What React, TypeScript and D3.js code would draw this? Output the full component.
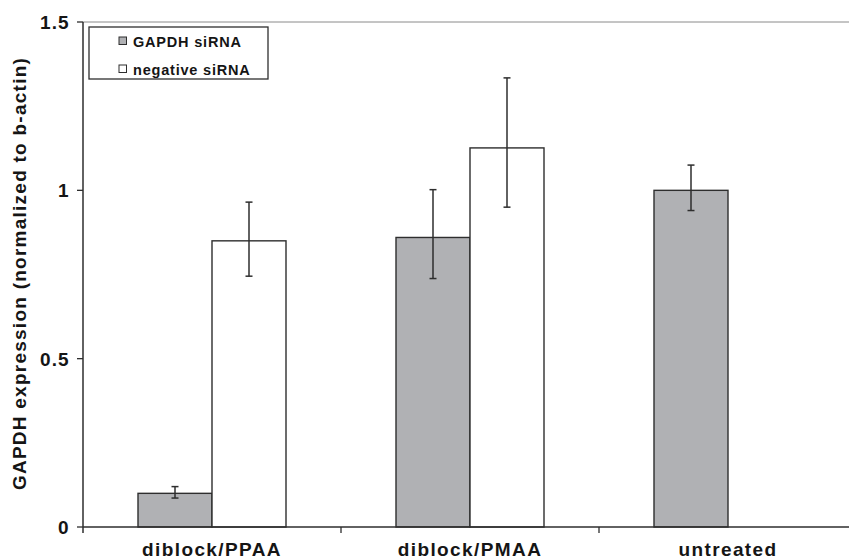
import React from "react";
import * as d3 from "d3";

// Chart data
const categories = ["diblock/PPAA", "diblock/PMAA", "untreated"];
const seriesNames = ["GAPDH siRNA", "negative siRNA"];
const gapdhValues = [0.1, 0.86, 1.0];
const gapdhErrUp = [0.02, 0.142, 0.075];
const gapdhErrDown = [0.014, 0.122, 0.06];
const negativeValues: (number | null)[] = [0.85, 1.126, null];
const negativeErrUp = [0.115, 0.208, 0];
const negativeErrDown = [0.105, 0.176, 0];
const yTicks = [0, 0.5, 1, 1.5];
const yTickLabels = ["0", "0.5", "1", "1.5"];
const yTitle = "GAPDH expression (normalized to b-actin)";

const W = 849;
const H = 560;
const FONT = "'Liberation Sans', Arial, Helvetica, sans-serif";
const GRAY = "#b0b1b4";
const INK = "#2e2e2e";
const TEXT = "#151515";

export default function App() {
  const left = 83;
  const plotTop = 22;
  const plotBottom = 527;

  const y = d3.scaleLinear().domain([0, 1.5]).range([plotBottom, plotTop]);
  const x0 = d3
    .scaleBand<string>()
    .domain(categories)
    .range([left, left + 258 * categories.length])
    .paddingInner(0)
    .paddingOuter(0);
  const groupWidth = 148;
  const x1 = d3.scaleBand<string>().domain(seriesNames).range([0, groupWidth]);
  const groupOffset = (x0.bandwidth() - groupWidth) / 2;

  const series = [
    { name: seriesNames[0], values: gapdhValues, up: gapdhErrUp, down: gapdhErrDown, fill: GRAY },
    { name: seriesNames[1], values: negativeValues, up: negativeErrUp, down: negativeErrDown, fill: "#ffffff" },
  ];

  const capHalf = 3.5;

  return (
    <svg
      width={W}
      height={H}
      style={{ position: "absolute", left: 0, top: 0, background: "#fff" }}
      fontFamily={FONT}
    >
      {/* top border of plot area */}
      <line x1={left} x2={W} y1={y(1.5)} y2={y(1.5)} stroke="#8a8a8a" strokeWidth={1} />

      {/* bars */}
      {series.map((s) =>
        categories.map((c, i) => {
          const v = s.values[i];
          if (v == null) return null;
          const bx = (x0(c) as number) + groupOffset + (x1(s.name) as number);
          const bw = x1.bandwidth();
          return (
            <rect
              key={s.name + c}
              x={bx}
              y={y(v)}
              width={bw}
              height={y(0) - y(v)}
              fill={s.fill}
              stroke={INK}
              strokeWidth={1.4}
            />
          );
        })
      )}

      {/* error bars */}
      {series.map((s) =>
        categories.map((c, i) => {
          const v = s.values[i];
          if (v == null) return null;
          const cx = (x0(c) as number) + groupOffset + (x1(s.name) as number) + x1.bandwidth() / 2;
          const yHi = y(v + s.up[i]);
          const yLo = y(v - s.down[i]);
          return (
            <g key={"err" + s.name + c} stroke={INK} strokeWidth={1.5}>
              <line x1={cx} x2={cx} y1={yHi} y2={yLo} />
              <line x1={cx - capHalf} x2={cx + capHalf} y1={yHi} y2={yHi} />
              <line x1={cx - capHalf} x2={cx + capHalf} y1={yLo} y2={yLo} />
            </g>
          );
        })
      )}

      {/* y axis */}
      <line x1={left} x2={left} y1={plotTop} y2={plotBottom + 6} stroke={INK} strokeWidth={1.5} />
      {yTicks.map((t, i) => (
        <g key={"yt" + t}>
          <line x1={left - 6} x2={left} y1={y(t)} y2={y(t)} stroke={INK} strokeWidth={1.3} />
          <text
            x={69.5}
            y={y(t)}
            dy="0.36em"
            textAnchor="end"
            fontSize={19}
            fontWeight="bold"
            letterSpacing={1}
            fill={TEXT}
          >
            {yTickLabels[i]}
          </text>
        </g>
      ))}

      {/* x axis */}
      <line x1={left} x2={W} y1={plotBottom} y2={plotBottom} stroke={INK} strokeWidth={1.5} />
      {categories.slice(1).map((c) => (
        <line
          key={"xt" + c}
          x1={x0(c) as number}
          x2={x0(c) as number}
          y1={plotBottom}
          y2={plotBottom + 6}
          stroke={INK}
          strokeWidth={1.3}
        />
      ))}
      {categories.map((c) => (
        <text
          key={"xl" + c}
          x={(x0(c) as number) + x0.bandwidth() / 2}
          y={556}
          textAnchor="middle"
          fontSize={19}
          fontWeight="bold"
          letterSpacing={1.4}
          fill={TEXT}
        >
          {c}
        </text>
      ))}

      {/* y axis title */}
      <text
        transform={`translate(26, ${(57 + 490) / 2}) rotate(-90)`}
        textAnchor="middle"
        fontSize={19}
        fontWeight="bold"
        letterSpacing={1.25}
        fill={TEXT}
      >
        {yTitle}
      </text>

      {/* legend */}
      <rect x={89} y={27} width={179} height={52} fill="#fff" stroke={INK} strokeWidth={1.3} />
      {series.map((s, i) => (
        <g key={"lg" + s.name} transform={`translate(119, ${37 + i * 28})`}>
          <rect x={0} y={0} width={7.5} height={7.5} fill={s.fill} stroke={INK} strokeWidth={1} />
          <text x={14} y={9.5} fontSize={14.5} fontWeight="bold" letterSpacing={0.8} fill={TEXT}>
            {s.name}
          </text>
        </g>
      ))}
    </svg>
  );
}
